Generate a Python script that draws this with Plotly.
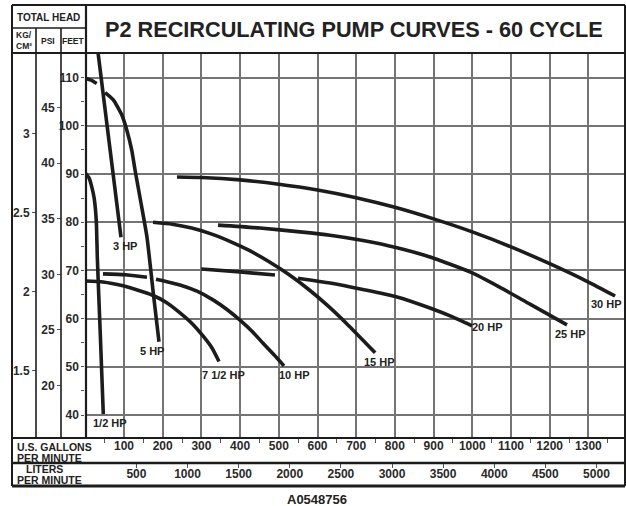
import plotly.graph_objects as go

# ---------------- data ----------------
hp_half_gpm = [0, 9.6, 16.5, 22.5, 26.4, 28.9, 31.0, 38.8, 46.5]
hp_half_ft = [90.2, 89.2, 87.4, 85.2, 82.5, 79.4, 72.8, 56.6, 40.2]

hp3_gpm = [32.8, 62, 92.2]
hp3_ft = [115.3, 96.4, 76.9]

hp5_gpm = [0, 14.7, 29.5, None, 51.2, 72.4, 94.1, 107, 119.9, 128.4, 143.9, 159.4, 175.7, 190.4]
hp5_ft = [109.9, 109.5, 108.8, None, 106.9, 105.4, 102.3, 99.2, 95.0, 90.9, 84.0, 76.9, 65.3, 55.2]

hp7_5_gpm = [0, 45.7, 97.4, 136.2, 172.4, 208.5, 244.7, 275.7, 304.1, 327.4, 345.5]
hp7_5_ft = [67.8, 67.6, 66.8, 65.9, 64.9, 63.4, 61.2, 59.0, 56.4, 53.9, 51.1]

hp10_gpm = [45.7, 102.6, 159.4, None, 182.7, 244.7, 288.6, 330, 366.1, 399.7, 430.7, 459.2, 487.6, 513.4]
hp10_ft = [69.3, 69.1, 68.6, None, 68.2, 67.0, 65.7, 63.9, 61.9, 59.7, 57.4, 54.9, 52.5, 50.2]

hp15_gpm = [175, 225, 275, 325, 375, 425, 475, 525, 575, 625, 675, 725, 749]
hp15_ft = [80.0, 79.6, 78.8, 77.6, 76.0, 74.1, 71.8, 69.2, 66.2, 62.8, 59.0, 54.9, 52.9]

hp20_gpm = [299.5, 400, 490, None, 549.6, 632.3, 720.2, 805.4, 890.7, 947.5, 999.2]
hp20_ft = [70.3, 69.7, 69.05, None, 68.4, 67.4, 66.0, 64.5, 62.2, 60.4, 58.5]

hp25_gpm = [342.9, 451.4, 554.8, 632.3, 717.6, 805.4, 898.4, 994.1, 1071.6, 1149.1, 1244.7]
hp25_ft = [79.4, 78.8, 78.0, 77.3, 76.2, 74.7, 72.6, 69.7, 66.5, 63.0, 58.7]

hp30_gpm = [237, 300, 400, 500, 600, 700, 800, 900, 1000, 1100, 1200, 1300, 1369]
hp30_ft = [89.4, 89.3, 88.8, 87.9, 86.7, 85.1, 83.1, 80.7, 78.0, 74.9, 71.4, 67.6, 64.7]

curve_names = ["1/2 HP", "3 HP", "5 HP", "7 1/2 HP", "10 HP", "15 HP", "20 HP", "25 HP", "30 HP"]
label_gpm = [64, 103, 173, 356, 541, 761, 1040, 1255, 1348]
label_ft = [38.3, 75.1, 53.3, 48.3, 48.3, 51, 58.3, 56.8, 63]

gpm_ticks = [100, 200, 300, 400, 500, 600, 700, 800, 900, 1000, 1100, 1200, 1300]
gpm_minor = [50, 150, 250, 350, 450, 550, 650, 750, 850, 950, 1050, 1150, 1250, 1350]
lpm_ticks = [500, 1000, 1500, 2000, 2500, 3000, 3500, 4000, 4500, 5000]
feet_ticks = [40, 50, 60, 70, 80, 90, 100, 110]
psi_ticks = [20, 25, 30, 35, 40, 45]
kg_ticks = [1.5, 2, 2.5, 3]
kg_labels = ["1.5", "2", "2.5", "3"]

title_text = "P2 RECIRCULATING PUMP CURVES - 60 CYCLE"
drawing_no = "A0548756"

# ---------------- conversion factors ----------------
FT_PER_PSI = 2.3067
FT_PER_KG = 32.808
LPM_PER_GPM = 3.78541

W, H = 626, 506
GPM_MAX = 1394.6
FT_MIN, FT_MAX = 35.23, 115.23


def X(px):
    return px / W


def Y(py):
    return 1 - py / H


INK = "#1c1c1c"
GRID = "#747474"
FONT = "Liberation Sans, Arial, sans-serif"

fig = go.Figure()

curves = [
    (hp_half_gpm, hp_half_ft), (hp3_gpm, hp3_ft), (hp5_gpm, hp5_ft),
    (hp7_5_gpm, hp7_5_ft), (hp10_gpm, hp10_ft), (hp15_gpm, hp15_ft),
    (hp20_gpm, hp20_ft), (hp25_gpm, hp25_ft), (hp30_gpm, hp30_ft),
]
for name, (gx, fy) in zip(curve_names, curves):
    fig.add_trace(go.Scatter(
        x=gx, y=fy, name=name, mode="lines",
        line=dict(color=INK, width=3.6, shape="spline", smoothing=0.5),
        connectgaps=False, showlegend=False, hoverinfo="skip",
    ))

# invisible helpers so the secondary scales are drawn
fig.add_trace(go.Scatter(x=[None], y=[None], yaxis="y2", showlegend=False, hoverinfo="skip"))
fig.add_trace(go.Scatter(x=[None], y=[None], yaxis="y3", showlegend=False, hoverinfo="skip"))
fig.add_trace(go.Scatter(x=[None], y=[None], xaxis="x2", showlegend=False, hoverinfo="skip"))

dom_x = [X(85.3), X(625)]
dom_y = [Y(438), Y(52.5)]
tickfont = dict(family=FONT, size=12, color="#2a2a2a", weight="bold")

fig.update_layout(
    width=W, height=H,
    margin=dict(l=0, r=0, t=0, b=0),
    paper_bgcolor="white", plot_bgcolor="white",
    xaxis=dict(
        domain=dom_x, range=[0, GPM_MAX], tickvals=gpm_ticks,
        showgrid=True, gridcolor=GRID, gridwidth=1.6,
        zeroline=False, showline=False, ticks="", tickfont=tickfont,
        ticklabelstandoff=-1,
        minor=dict(tickvals=gpm_minor, ticks="outside", ticklen=4, tickcolor="#555", tickwidth=1, showgrid=False),
        anchor="y",
    ),
    xaxis2=dict(
        domain=dom_x, overlaying="x", anchor="free", position=Y(463), side="bottom",
        range=[0, GPM_MAX * LPM_PER_GPM], tickvals=lpm_ticks,
        showgrid=False, zeroline=False, showline=False,
        ticks="outside", ticklen=4, tickcolor="#555", tickwidth=1, tickfont=tickfont,
        ticklabelstandoff=-4,
    ),
    yaxis=dict(
        domain=dom_y, range=[FT_MIN, FT_MAX], tickvals=feet_ticks,
        showgrid=True, gridcolor=GRID, gridwidth=1.6,
        zeroline=False, showline=False, ticks="outside", ticklen=3,
        tickcolor="#555", tickfont=tickfont, anchor="x",
        minor=dict(dtick=5, tick0=0, ticks="outside", ticklen=3, tickcolor="#555", showgrid=False),
    ),
    yaxis2=dict(
        domain=dom_y, overlaying="y", anchor="free", position=X(61), side="left",
        range=[FT_MIN / FT_PER_PSI, FT_MAX / FT_PER_PSI], tickvals=psi_ticks,
        showgrid=False, zeroline=False, showline=False,
        ticks="outside", ticklen=4, tickcolor="#555", tickfont=tickfont,
    ),
    yaxis3=dict(
        domain=dom_y, overlaying="y", anchor="free", position=X(36), side="left",
        range=[FT_MIN / FT_PER_KG, FT_MAX / FT_PER_KG], tickvals=kg_ticks, ticktext=kg_labels,
        showgrid=False, zeroline=False, showline=False,
        ticks="outside", ticklen=4, tickcolor="#555", tickfont=tickfont,
    ),
)


# frame / table lines
def hline(y, x0, x1, w=2):
    fig.add_shape(type="line", xref="paper", yref="paper", x0=X(x0), x1=X(x1), y0=Y(y), y1=Y(y),
                  line=dict(color=INK, width=w))


def vline(x, y0, y1, w=2):
    fig.add_shape(type="line", xref="paper", yref="paper", x0=X(x), x1=X(x), y0=Y(y0), y1=Y(y1),
                  line=dict(color=INK, width=w))


hline(5, 12, 625, 2)
hline(28, 12, 86, 1.6)
hline(53, 12, 625, 2.2)
hline(438, 12, 625, 2.2)
hline(463, 12, 625, 2.6)
hline(486, 12, 625, 3)
vline(12, 5, 486, 2)
vline(625, 5, 486, 2)
vline(36, 28, 438, 1.6)
vline(61, 28, 438, 1.6)
vline(86, 5, 438, 2.2)


def note(text, x, y, size, xanchor="center"):
    fig.add_annotation(text=text, xref="paper", yref="paper", x=X(x), y=Y(y),
                       xanchor=xanchor, yanchor="middle", showarrow=False,
                       font=dict(family=FONT, size=size, color="#222", weight="bold"))


note(title_text, 353.5, 30, 21.7)
note("TOTAL HEAD", 48.5, 17, 10)
note("KG/", 24, 35, 8.5)
note("CM²", 24, 46, 8.5)
note("PSI", 48.5, 41, 8.5)
note("FEET", 73.5, 41, 8.5)
note("U.S. GALLONS", 14.5, 447, 10.5, "left")
note("PER MINUTE", 14.5, 457.5, 10.5, "left")
note("LITERS", 44, 469, 10.5)
note("PER MINUTE", 14.5, 479.5, 10.5, "left")
note(drawing_no, 317, 499, 13)

for name, gx, fy in zip(curve_names, label_gpm, label_ft):
    fig.add_annotation(text=name, x=gx, y=fy, xref="x", yref="y", showarrow=False,
                       xanchor="center", yanchor="middle",
                       font=dict(family=FONT, size=11, color="#222", weight="bold"))

fig.write_html("out.html", config={"displayModeBar": False},
               post_script="document.body.style.margin='0px';")
